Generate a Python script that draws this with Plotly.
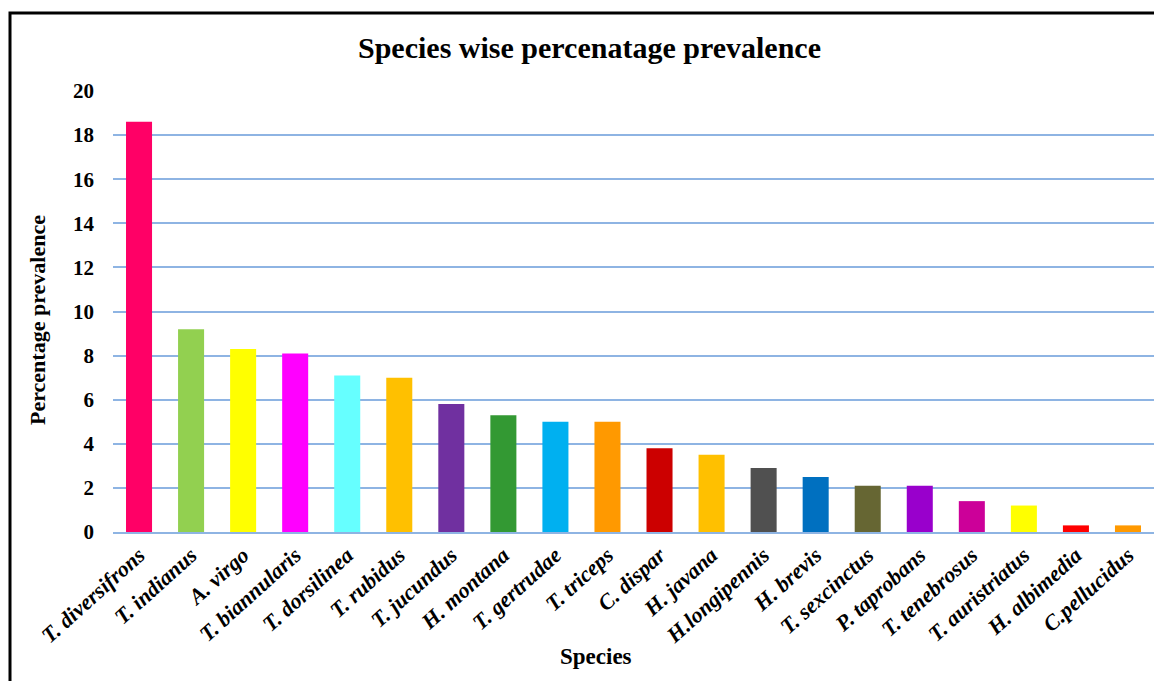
import plotly.graph_objects as go

species = ["T. diversifrons", "T. indianus", "A. virgo", "T. biannularis", "T. dorsilinea",
           "T. rubidus", "T. jucundus", "H. montana", "T. gertrudae", "T. triceps",
           "C. dispar", "H. javana", "H.longipennis", "H. brevis", "T. sexcinctus",
           "P. taprobans", "T. tenebrosus", "T. auristriatus", "H. albimedia", "C.pellucidus"]
prevalence = [18.6, 9.2, 8.3, 8.1, 7.1, 7.0, 5.8, 5.3, 5.0, 5.0,
              3.8, 3.5, 2.9, 2.5, 2.1, 2.1, 1.4, 1.2, 0.3, 0.3]
colors = ["#FF0066", "#92D050", "#FFFF00", "#FF00FF", "#66FFFF",
          "#FFC000", "#7030A0", "#339933", "#00B0F0", "#FF9900",
          "#CC0000", "#FFC000", "#505050", "#0070C0", "#666633",
          "#9900CC", "#CC0099", "#FFFF00", "#FF0000", "#FF9900"]
y_ticks = [0, 2, 4, 6, 8, 10, 12, 14, 16, 18, 20]

W, H = 1154, 681
ML, MR, MT, MB = 113, 0, 91, 149
pw, ph = W - ML - MR, H - MT - MB

def px_to_paper_x(px):
    return (px - ML) / pw

def px_to_paper_y(py):
    return (H - MB - py) / ph

serif = "Liberation Serif, Times New Roman, serif"

fig = go.Figure(go.Bar(
    x=species, y=prevalence, marker=dict(color=colors, line=dict(width=0)),
    width=0.5,
))

fig.update_layout(
    width=W, height=H,
    margin=dict(l=ML, r=MR, t=MT, b=MB),
    paper_bgcolor="white", plot_bgcolor="white",
    showlegend=False,
    font=dict(family=serif, color="black"),
    xaxis=dict(
        range=[-0.5, 19.5], tickangle=-42,
        tickfont=dict(family=serif, size=22, color="black", weight="bold", style="italic"),
        showline=True, linecolor="#8EB4E3", linewidth=1.5,
        showgrid=False, ticks="",
    ),
    yaxis=dict(
        range=[0, 20], tickvals=y_ticks,
        tickfont=dict(family=serif, size=21, color="black", weight="bold"),
        showgrid=True, gridcolor="#8EB4E3", gridwidth=1.5,
        zeroline=False, ticks="", ticklabelstandoff=18,
    ),
    annotations=[
        dict(text="<b>Species wise percenatage prevalence</b>", xref="paper", yref="paper",
             x=px_to_paper_x(589), y=px_to_paper_y(48), xanchor="center", yanchor="middle",
             showarrow=False, font=dict(family=serif, size=30, color="black")),
        dict(text="<b>Species</b>", xref="paper", yref="paper",
             x=px_to_paper_x(596), y=px_to_paper_y(656), xanchor="center", yanchor="middle",
             showarrow=False, font=dict(family=serif, size=23, color="black")),
        dict(text="<b>Percentage prevalence</b>", xref="paper", yref="paper",
             x=px_to_paper_x(37), y=px_to_paper_y(320), xanchor="center", yanchor="middle",
             textangle=-90, showarrow=False, font=dict(family=serif, size=22, color="black")),
    ],
    shapes=[dict(type="rect", xref="paper", yref="paper",
                 x0=px_to_paper_x(10), x1=px_to_paper_x(1200),
                 y0=px_to_paper_y(13), y1=px_to_paper_y(720),
                 line=dict(color="black", width=3), fillcolor="rgba(0,0,0,0)",
                 layer="above")],
)

fig.write_html("out.html", config={"displayModeBar": False},
               post_script="document.body.style.margin='0';document.body.style.overflow='hidden';")
